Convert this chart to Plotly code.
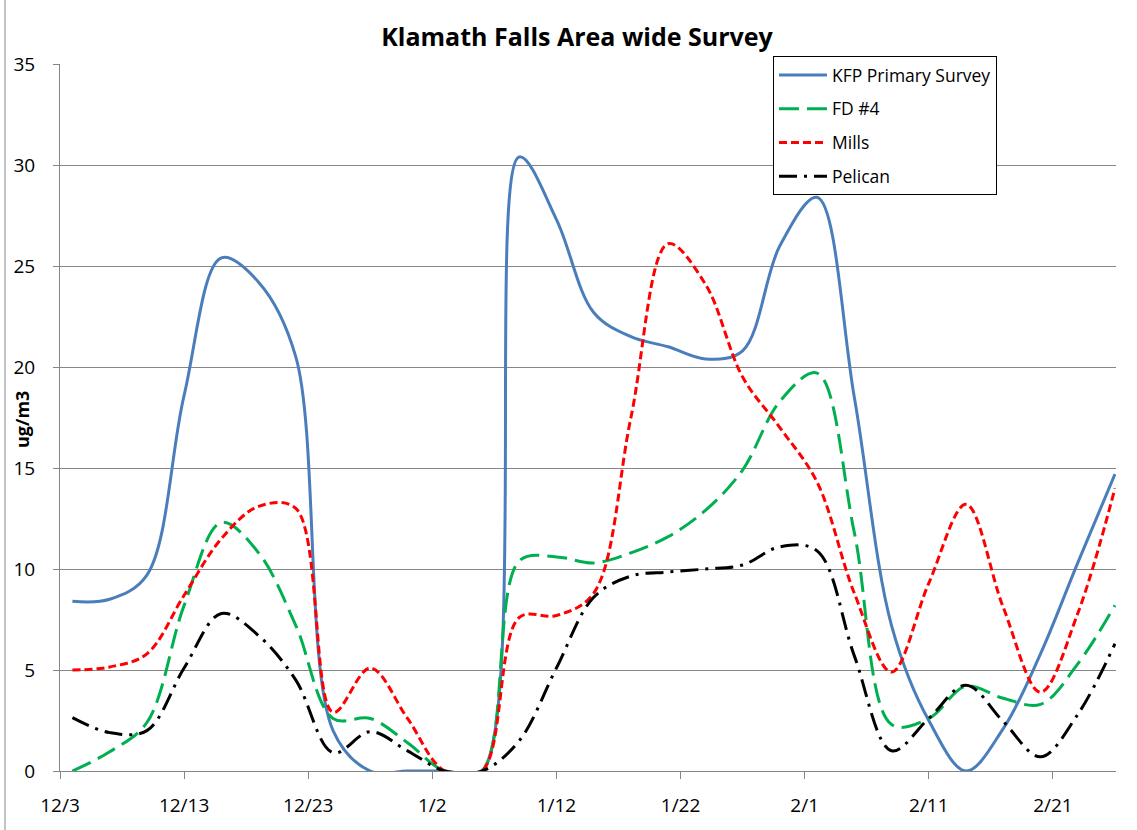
import plotly.graph_objects as go

dates = ["2008-12-04", "2008-12-07", "2008-12-10", "2008-12-13", "2008-12-16", "2008-12-19",
         "2008-12-22", "2008-12-25", "2008-12-28", "2008-12-31", "2009-01-03", "2009-01-06",
         "2009-01-09", "2009-01-12", "2009-01-15", "2009-01-18", "2009-01-21", "2009-01-24",
         "2009-01-27", "2009-01-30", "2009-02-02", "2009-02-05", "2009-02-08", "2009-02-11",
         "2009-02-14", "2009-02-17", "2009-02-20", "2009-02-23", "2009-02-26"]

kfp = [8.4, 8.5, 9.7, 18.6, 25.4, 24.2, 20.5, 2.0, 0, 0, 0, 0, 30.4, 27.3, 22.7, 21.5, 21.0,
       20.4, 20.8, 26.0, 28.4, 18.5, 7.2, 2.5, 0, 2.1, 5.8, 10.3, 14.7]
fd4 = [0, 0.95, 2.4, 8.2, 12.3, 10.8, 7.2, 2.6, 2.6, 1.4, 0, 0, 10.4, 10.6, 10.3, 10.8, 11.6,
       12.9, 14.9, 18.3, 19.7, 11.8, 2.3, 2.6, 4.2, 3.6, 3.3, 5.3, 8.2]
mills = [5.0, 5.15, 5.8, 8.7, 11.5, 13.1, 13.0, 2.9, 5.1, 2.6, 0, 0, 7.6, 7.7, 8.8, 17.5, 26.1,
         24.1, 19.5, 17.0, 14.3, 8.8, 4.9, 9.3, 13.2, 8.1, 3.9, 7.8, 14.0]
pelican = [2.64, 1.9, 2.0, 5.1, 7.8, 6.7, 4.5, 0.9, 1.95, 1.0, 0, 0, 1.5, 5.1, 8.6, 9.65, 9.85,
           10.0, 10.2, 11.1, 10.9, 5.7, 1.0, 2.6, 4.25, 2.45, 0.7, 2.8, 6.3]

series_names = ["KFP Primary Survey", "FD #4", "Mills", "Pelican"]
tick_dates = ["2008-12-03", "2008-12-13", "2008-12-23", "2009-01-02", "2009-01-12",
              "2009-01-22", "2009-02-01", "2009-02-11", "2009-02-21"]
tick_labels = ["12/3", "12/13", "12/23", "1/2", "1/12", "1/22", "2/1", "2/11", "2/21"]

FONT = "Open Sans"
W, H = 1137, 830
L, R, T, B = 60, 21, 64, 59
PW, PH = W - L - R, H - T - B

styles = [
    dict(color="#4A7EBB", width=3, dash="solid"),
    dict(color="#00B050", width=3, dash="20px,8px"),
    dict(color="#FF0000", width=3, dash="8px,4px"),
    dict(color="#000000", width=3, dash="18px,7px,3px,7px"),
]

fig = go.Figure()
for i, (name, ys) in enumerate(zip(series_names, [kfp, fd4, mills, pelican])):
    fig.add_trace(go.Scatter(
        x=dates, y=ys, name=name, mode="lines",
        line=dict(shape="spline", smoothing=1, **styles[i]),
        legendgroup=f"g{i}",
    ))

fig.update_layout(
    width=W, height=H,
    margin=dict(l=L, r=R, t=T, b=B, autoexpand=False),
    paper_bgcolor="white", plot_bgcolor="white",
    font=dict(family=FONT, color="black"),
    title=dict(text="<b>Klamath Falls Area wide Survey</b>", x=(577 - L) / PW, xref="paper",
               xanchor="center", y=1 - 37 / H, yanchor="middle",
               font=dict(size=25, family=FONT, color="black")),
    showlegend=True,
    legend=dict(x=(773 - L) / PW, y=(H - B - 56) / PH, xanchor="left", yanchor="top",
                bgcolor="white", bordercolor="black", borderwidth=1,
                font=dict(size=17.5, family=FONT, color="black"),
                itemwidth=48, tracegroupgap=8, traceorder="grouped"),
    xaxis=dict(type="date", range=["2008-12-03", "2009-02-26 02:00"],
               tickvals=tick_dates, ticktext=tick_labels, automargin=False,
               showgrid=False, showline=True, linecolor="#868686", linewidth=1,
               ticks="outside", ticklen=7, tickcolor="#868686",
               tickfont=dict(size=19, family=FONT, color="black"), ticklabelstandoff=10,
               zeroline=False),
    yaxis=dict(range=[0, 35], tickvals=[0, 5, 10, 15, 20, 25, 30, 35], automargin=False,
               showgrid=True, gridcolor="#868686", gridwidth=1,
               showline=True, linecolor="#868686", linewidth=1,
               ticks="outside", ticklen=6, tickcolor="#868686",
               tickfont=dict(size=19, family=FONT, color="black"), ticklabelstandoff=14,
               zeroline=False),
)

fig.add_annotation(text="<b>ug/m3</b>", textangle=-90, xref="paper", yref="paper",
                   x=(22 - L) / PW, y=(H - B - 420) / PH, xanchor="center", yanchor="middle",
                   showarrow=False, font=dict(size=18, family=FONT, color="black"))

fig.add_shape(type="line", xref="paper", yref="paper",
              x0=(5 - L) / PW, x1=(5 - L) / PW, y0=-B / PH, y1=(H - B) / PH,
              line=dict(color="#868686", width=1))

fig.write_html("out.html", config={"displayModeBar": False},
               post_script="document.body.style.margin='0';document.body.style.padding='0';")
